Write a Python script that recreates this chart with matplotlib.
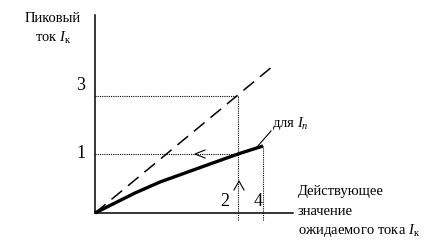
import matplotlib
matplotlib.use("Agg")
import matplotlib.pyplot as plt

plt.rcParams["font.family"] = ["Liberation Serif", "DejaVu Serif"]
plt.rcParams["mathtext.fontset"] = "custom"
plt.rcParams["mathtext.rm"] = "Liberation Serif"
plt.rcParams["mathtext.it"] = "Liberation Serif:italic"

# ideal (dashed) line and real peak current curve, drawing units
ideal_x = [0, 178]
ideal_y = [0, 147]
curve_x = [0, 20, 40, 65, 90, 115, 143, 168]
curve_y = [0, 10, 20, 31, 40, 49, 59, 67]

level_3 = 117   # peak current without limiting
level_1 = 59    # limited peak current
x_2 = 143       # prospective current
x_4 = 168       # limit value

fig = plt.figure(figsize=(4.33, 2.45), dpi=100)
ax = fig.add_axes([0, 0, 1, 1])
ax.set_xlim(-95, 338)
ax.set_ylim(-32, 213)
ax.axis("off")

# axes
ax.plot([0, 0], [0, 198], color="black", lw=1.1)
ax.plot([0, 198], [0, 0], color="black", lw=1.1)

ax.plot(ideal_x, ideal_y, color="black", lw=1.1, dashes=(9, 5))
ax.plot(curve_x, curve_y, color="black", lw=2.4, solid_capstyle="butt",
        solid_joinstyle="round")

dot = dict(color="black", lw=0.8, ls=(0, (1, 1)))
ax.plot([0, x_2], [level_3, level_3], **dot)
ax.plot([0, x_2], [level_1, level_1], **dot)
ax.plot([x_2, x_2], [-7, level_3], **dot)
ax.plot([x_4, x_4], [-7, curve_y[-1]], **dot)

# open arrowheads
ax.plot([110, 100, 110], [63, level_1, 55], color="black", lw=0.8)
ax.plot([139, 144, 149], [23, 32, 23], color="black", lw=0.8)

# leader to label
ax.plot([162, 176], [66, 82], color="black", lw=0.8)

ax.text(-42, 194, "Пиковый", fontsize=10.5, ha="center", va="center")
ax.text(-42, 175, "ток $I_{\\mathrm{к}}$", fontsize=10.5, ha="center", va="center")
ax.text(-14, level_3 + 10, "3", fontsize=13, ha="center", va="center")
ax.text(-14, level_1, "1", fontsize=13, ha="center", va="center")
ax.text(x_2 - 13, 12, "2", fontsize=13, ha="center", va="center")
ax.text(x_4 - 5, 12, "4", fontsize=13, ha="center", va="center")
ax.text(177, 90, "для $I_n$", fontsize=10.5, ha="left", va="center")
ax.text(203, 21, "Действующее", fontsize=10.5, ha="left", va="center")
ax.text(203, 2, "значение", fontsize=10.5, ha="left", va="center")
ax.text(203, -17, "ожидаемого тока $I_{\\mathrm{к}}$", fontsize=10.5, ha="left", va="center")

fig.savefig("out.png", dpi=100)
